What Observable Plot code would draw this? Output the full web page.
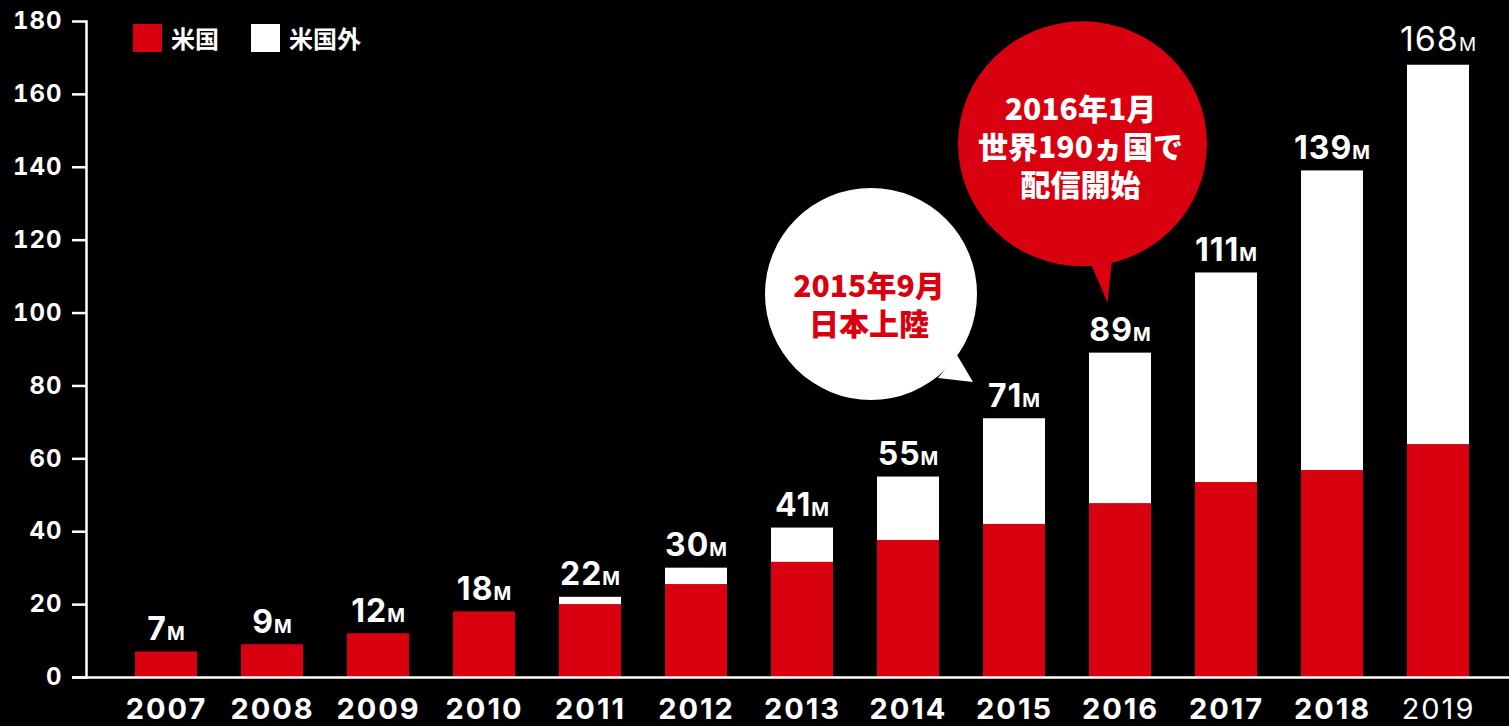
<!DOCTYPE html>
<html><head><meta charset="utf-8">
<script src="https://cdn.jsdelivr.net/npm/d3@7"></script>
<script src="https://cdn.jsdelivr.net/npm/@observablehq/plot@0.6"></script>
<style>
html,body{margin:0;padding:0;background:#000;overflow:hidden}
#wrap{position:relative;width:1509px;height:726px}
#legend{position:absolute;left:133px;top:20px}
#legend [class$="-swatch"]{margin-right:32px !important}
#legend [class$="-swatch"] svg{margin-right:9px !important}
</style></head><body><div id="wrap"><div id="legend"></div></div>
<script>
// ---- data ----
const years = ["2007","2008","2009","2010","2011","2012","2013","2014","2015","2016","2017","2018","2019"];
const totals = [7, 9, 12, 18, 22, 30, 41, 55, 71, 89, 111, 139, 168];
const usValues = [7, 9, 12, 18, 20, 25.5, 31.6, 37.6, 42, 47.7, 53.5, 56.8, 63.9];
const regions = ["米国", "米国外"];
const regionColors = ["#d9000f", "#ffffff"];
const yTicks = [0, 20, 40, 60, 80, 100, 120, 140, 160, 180];
const unitSuffix = "M";
const noteYears = ["2015", "2016"];
const noteLines = [["2015年9月", "日本上陸"], ["2016年1月", "世界190ヵ国で", "配信開始"]];

const rows = years.flatMap((y, i) => [
  {year: y, region: regions[0], value: usValues[i]},
  {year: y, region: regions[1], value: +(totals[i] - usValues[i]).toFixed(1)}
]);
const totalRows = years.map((y, i) => ({year: y, total: totals[i]}));

const RED = "#d9000f";
const NUM = `Inter, "Noto Sans", sans-serif`;
const CJK = `"Noto Sans CJK JP", sans-serif`;

const chart = Plot.plot({
  width: 1509, height: 726,
  marginLeft: 86, marginRight: 0, marginTop: 21, marginBottom: 49,
  insetLeft: 15, insetRight: 7,
  style: {background: "#000", color: "#fff", fontFamily: NUM, overflow: "visible"},
  x: {type: "band", domain: years, paddingInner: 0.416, paddingOuter: 0.3, axis: null, label: null},
  y: {domain: [0, 180], axis: null, label: null},
  color: {domain: regions, range: regionColors},
  marks: [
    Plot.barY(rows, {x: "year", y: "value", fill: "region"}),
    Plot.frame({anchor: "left", stroke: "#fff", strokeWidth: 2.5}),
    Plot.ruleY([0], {stroke: "#fff", strokeWidth: 2.5, insetLeft: -14}),
    Plot.axisY(yTicks, {tickSize: 14, tickPadding: 10, fontSize: 24, fontWeight: "bold", color: "#fff", strokeWidth: 2.5, label: null, ariaDescription: "y-ticks"}),
    Plot.axisX(years.slice(0, 12), {tickSize: 0, tickPadding: 21, fontSize: 29, fontWeight: "bold", color: "#fff", label: null, ariaDescription: "x-ticks"}),
    Plot.axisX(years.slice(12), {tickSize: 0, tickPadding: 21, fontSize: 29, fontWeight: "normal", color: "#fff", label: null, ariaDescription: "x-ticks"}),
    Plot.text(totalRows.slice(0, 12), {x: "year", y: "total", text: d => String(d.total), dy: -12, lineAnchor: "bottom", fontSize: 32, fontWeight: "bold", fill: "#fff", ariaDescription: "value-label"}),
    Plot.text(totalRows.slice(12), {x: "year", y: "total", text: d => String(d.total), dy: -14, lineAnchor: "bottom", fontSize: 34, fontWeight: "normal", fill: "#fff", ariaDescription: "value-label"})
  ]
});
document.getElementById("wrap").appendChild(chart);

const svg = d3.select(chart);
// unit suffix in smaller type
svg.selectAll('g[aria-description="value-label"] text').each(function() {
  d3.select(this).attr("letter-spacing", 1).append("tspan").attr("font-size", 19).text(unitSuffix);
});
svg.selectAll('g[aria-description="x-ticks"] text').attr("letter-spacing", 2);
svg.selectAll('g[aria-description="y-ticks"] text').attr("letter-spacing", 1);

// legend
const leg = Plot.legend({
  color: {domain: regions, range: regionColors}, legend: "swatches",
  swatchWidth: 29, swatchHeight: 28,
  style: {fontSize: "24px", color: "#fff", fontWeight: "bold", fontFamily: CJK, background: "transparent"}
});
document.getElementById("legend").appendChild(leg);

// speech-bubble annotations anchored to their years
const X = chart.scale("x"), Y = chart.scale("y");
const xc = yr => X.apply(yr) + X.bandwidth / 2;
const layouts = [
  {dx: -143, cyv: 105.1, rx: 106, ry: 106, tail: [[86, 61], [67, 84], [102, 88]], fill: "#fff", text: RED, lineY: [-10, 28]},
  {dx: -37.5, cyv: 146.3, rx: 124.5, ry: 122.5, tail: [[5, 112], [30, 112], [25, 159]], fill: RED, text: "#fff", lineY: [-37, 1, 39]}
];
noteYears.forEach((yr, i) => {
  const L = layouts[i];
  const cx = xc(yr) + L.dx, cy = Y.apply(L.cyv);
  const g = svg.append("g").attr("aria-label", "annotation");
  g.append("ellipse").attr("cx", cx).attr("cy", cy).attr("rx", L.rx).attr("ry", L.ry).attr("fill", L.fill);
  g.append("polygon").attr("points", L.tail.map(([a, b]) => [cx + a, cy + b].join(",")).join(" ")).attr("fill", L.fill);
  const t = g.append("text").attr("text-anchor", "middle").attr("dominant-baseline", "central")
    .attr("font-family", CJK).attr("font-weight", 900).attr("font-size", 30).attr("fill", L.text);
  noteLines[i].forEach((line, j) => {
    t.append("tspan").attr("x", cx - 2).attr("y", cy + L.lineY[j]).text(line);
  });
});
</script></body></html>
